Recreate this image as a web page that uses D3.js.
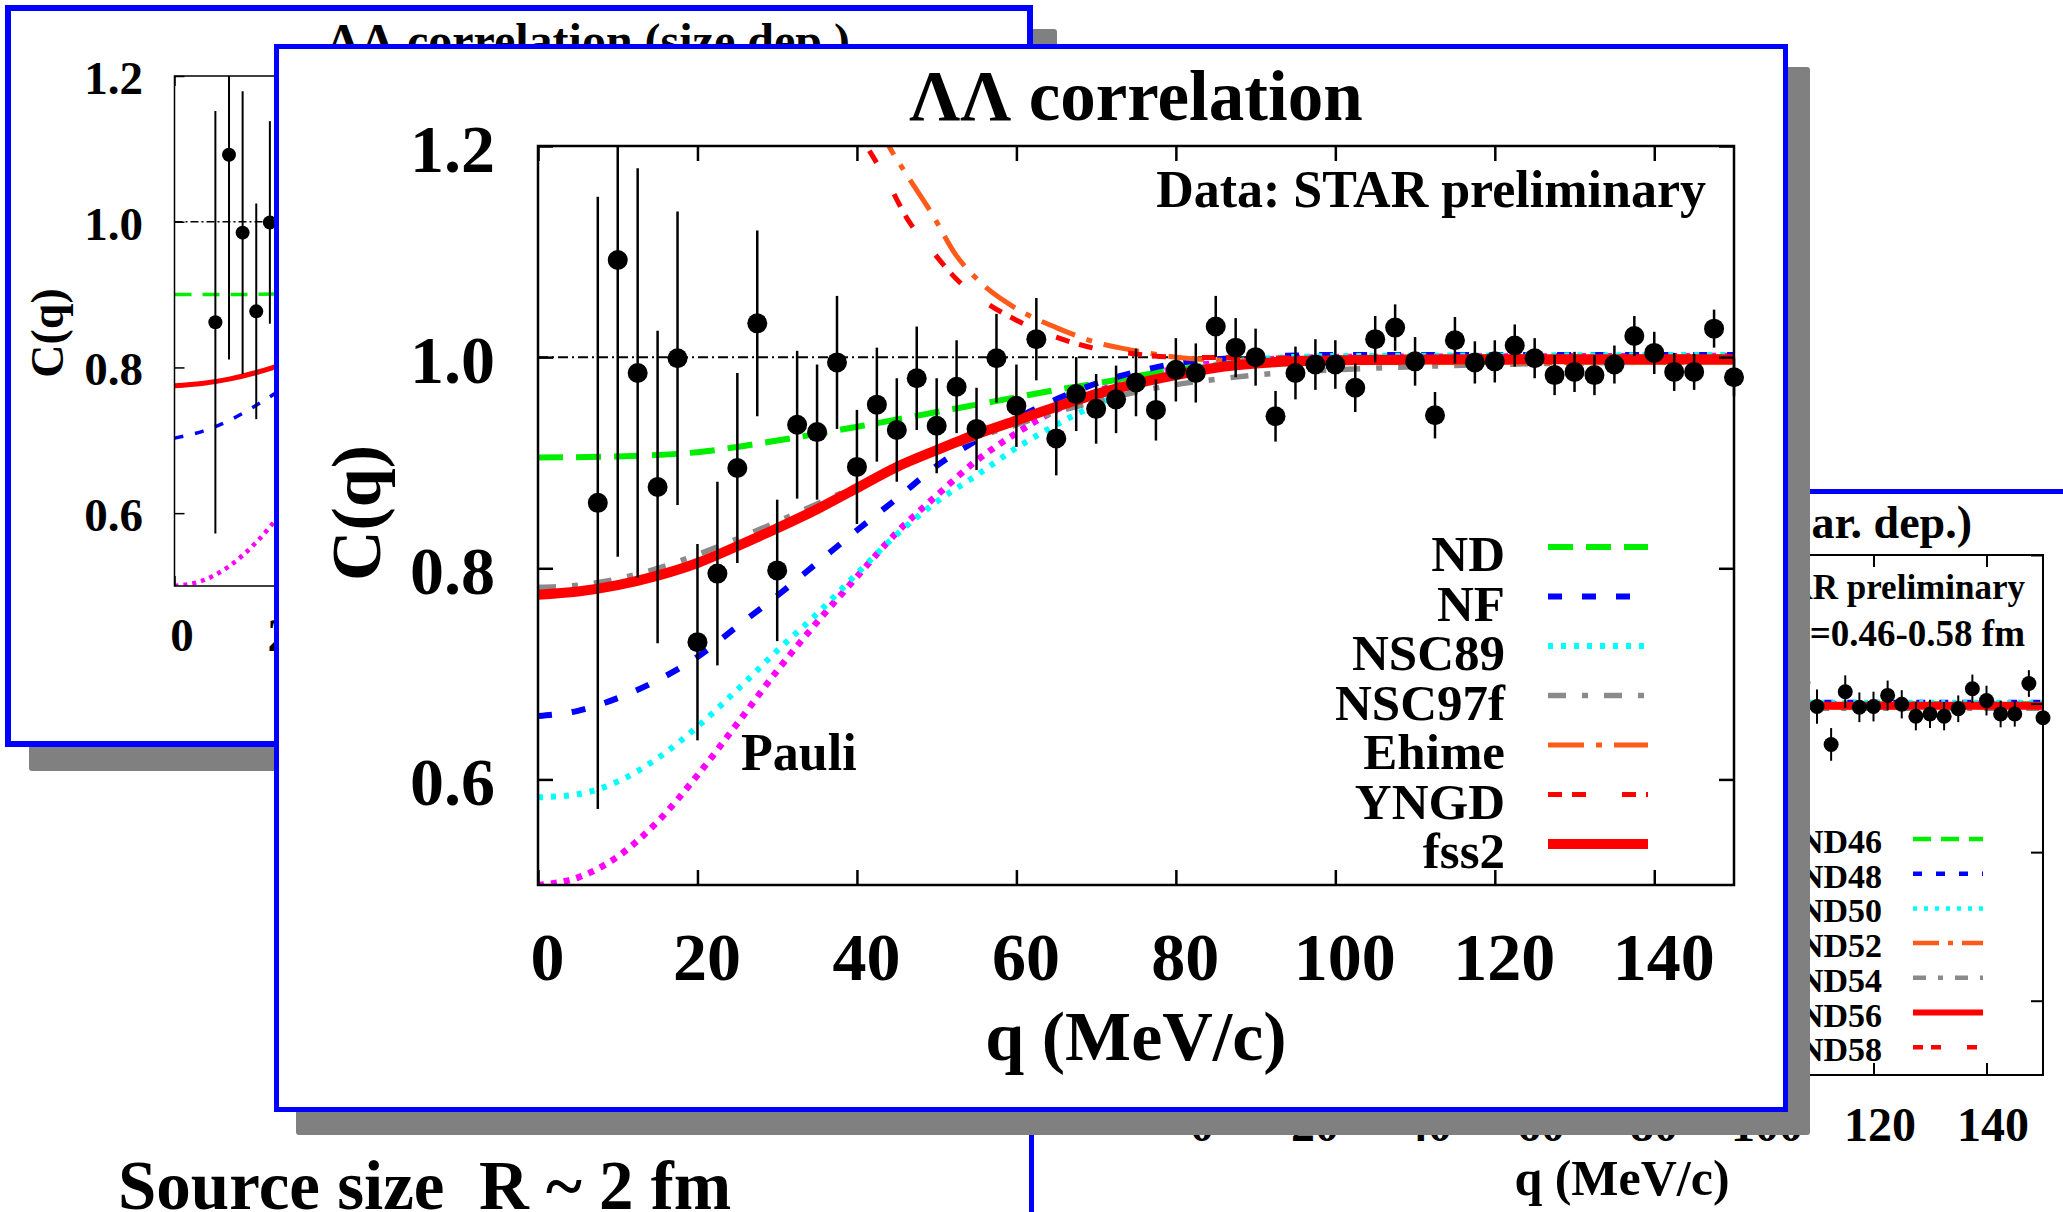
<!DOCTYPE html>
<html>
<head>
<meta charset="utf-8">
<script src="https://cdn.jsdelivr.net/npm/d3@7"></script>
<style>
  html, body { margin: 0; padding: 0; background: #fff; }
  svg text { font-family: "Liberation Serif", "Times New Roman", serif; font-weight: bold; fill: #000; }
</style>
</head>
<body>
<svg id="fig" width="2063" height="1212"></svg>
<script>
// ---------------- STAR preliminary ΛΛ correlation data ----------------
const qData = [7.5,10,12.5,15,17.5,20,22.5,25,27.5,30,32.5,35,37.5,40,42.5,45,47.5,50,52.5,55,
  57.5,60,62.5,65,67.5,70,72.5,75,77.5,80,82.5,85,87.5,90,92.5,95,97.5,100,102.5,105,
  107.5,110,112.5,115,117.5,120,122.5,125,127.5,130,132.5,135,137.5,140,142.5,145,147.5,150];
const cData = [0.862,1.092,0.985,0.877,0.999,0.730,0.795,0.895,1.032,0.798,
  0.936,0.929,0.995,0.896,0.955,0.931,0.980,0.935,0.972,0.932,
  0.999,0.954,1.017,0.923,0.965,0.951,0.960,0.976,0.950,0.988,
  0.985,1.029,1.009,1.000,0.944,0.985,0.993,0.993,0.971,1.017,
  1.028,0.996,0.945,1.016,0.995,0.996,1.011,0.999,0.983,0.986,
  0.983,0.993,1.020,1.004,0.986,0.986,1.027,0.981];
const cErr = [0.290,0.281,0.194,0.148,0.139,0.093,0.087,0.090,0.088,0.067,
  0.070,0.064,0.063,0.054,0.054,0.049,0.049,0.045,0.044,0.039,
  0.042,0.039,0.039,0.035,0.035,0.033,0.032,0.032,0.029,0.030,
  0.028,0.029,0.028,0.027,0.024,0.025,0.024,0.023,0.023,0.022,
  0.022,0.023,0.022,0.022,0.020,0.020,0.020,0.019,0.019,0.019,
  0.019,0.018,0.019,0.020,0.018,0.017,0.018,0.018];

// ---------------- model curves [q (MeV/c), C(q)] ----------------
const curveND = [[0,0.905],[10,0.906],[20,0.910],[30,0.921],[40,0.934],[50,0.948],[55,0.955],[60,0.962],
  [65,0.969],[70,0.975],[75,0.982],[80,0.988],[90,0.996],[100,0.999],[120,1.000],[150,1.000]];
const curveNF = [[0,0.660],[5,0.665],[10,0.677],[15,0.694],[20,0.716],[25,0.745],[30,0.774],[35,0.805],
  [40,0.836],[45,0.866],[50,0.897],[55,0.921],[60,0.942],[65,0.960],[70,0.975],[75,0.986],[80,0.994],
  [90,1.000],[100,1.002],[150,1.002]];
const curveNSC89 = [[0,0.583],[5,0.586],[10,0.598],[15,0.620],[20,0.650],[25,0.685],[30,0.722],[35,0.757],
  [40,0.795],[45,0.832],[50,0.863],[55,0.888],[60,0.914],[65,0.936],[70,0.955],[75,0.971],[80,0.984],
  [85,0.993],[90,0.998],[100,1.001],[150,1.002]];
const curveNSC97f = [[0,0.782],[5,0.784],[10,0.790],[15,0.800],[20,0.813],[25,0.828],[30,0.844],[35,0.861],
  [40,0.878],[45,0.895],[50,0.910],[55,0.924],[60,0.936],[65,0.948],[70,0.958],[75,0.967],[80,0.974],
  [85,0.979],[90,0.983],[95,0.986],[100,0.988],[110,0.991],[120,0.993],[150,0.996]];
const curveEhime = [[42.5,1.222],[44,1.200],[46.4,1.171],[49.4,1.136],[52.3,1.098],[55.6,1.070],[60,1.046],
  [65,1.028],[70,1.014],[75,1.006],[80,1.000],[90,0.996],[100,0.995],[150,0.995]];
const curveYNGD = [[40,1.215],[41.2,1.200],[43.5,1.171],[46.4,1.130],[49.4,1.101],[52.6,1.073],[55,1.058],
  [60,1.035],[65,1.019],[70,1.008],[75,1.003],[80,1.000],[100,0.999],[150,0.999]];
const curveFss2 = [[0,0.775],[5,0.778],[10,0.784],[15,0.793],[20,0.805],[25,0.821],[30,0.838],[35,0.856],
  [40,0.876],[45,0.896],[50,0.912],[55,0.927],[60,0.940],[65,0.953],[70,0.965],[75,0.975],[80,0.983],
  [85,0.990],[90,0.994],[95,0.996],[100,0.997],[120,0.998],[150,0.998]];
const curvePauli = [[0,0.500],[5,0.507],[10,0.527],[15,0.560],[20,0.604],[25,0.653],[30,0.703],[35,0.749],
  [40,0.792],[45,0.834],[50,0.869],[55,0.902],[60,0.928],[65,0.950],[70,0.967],[75,0.980],[80,0.989],
  [90,0.997],[100,1.000],[150,1.001]];

// source-size panel curves (low-q part)
const sizeDepGreen = [[0,0.900],[10,0.900],[20,0.901]];
const sizeDepBlue = [[0,0.703],[5,0.712],[10,0.727],[15,0.748],[20,0.772]];

// interaction-parameter panel curves (high-q part)
const curveND46 = [[95,1.000],[120,1.000],[150,1.000]];
const curveND48 = [[95,1.002],[120,1.002],[150,1.002]];
const curveND50 = [[95,1.002],[120,1.002],[150,1.002]];
const curveND52 = [[95,0.995],[120,0.995],[150,0.995]];
const curveND54 = [[95,0.993],[120,0.993],[150,0.993]];
const curveND56 = [[95,0.997],[120,0.997],[150,0.997]];
const curveND58 = [[95,0.998],[120,0.998],[150,0.998]];

const xTicks = [0,20,40,60,80,100,120,140];
const yTicks = [0.6,0.8,1.0,1.2];
const modelNames = ["ND","NF","NSC89","NSC97f","Ehime","YNGD","fss2"];
const ndNames = ["ND46","ND48","ND50","ND52","ND54","ND56","ND58"];

// ---------------- helpers ----------------
const svg = d3.select("#fig");
svg.append("rect").attr("width",2063).attr("height",1212).attr("fill","#fff");
const defs = svg.append("defs");

function makeClip(id, x0, y0, x1, y1) {
  defs.append("clipPath").attr("id", id).append("rect")
    .attr("x", x0).attr("y", y0).attr("width", x1 - x0).attr("height", y1 - y0);
  return `url(#${id})`;
}
function label(g, x, y, str, size, anchor) {
  return g.append("text").attr("x", x).attr("y", y)
    .attr("text-anchor", anchor || "start")
    .style("font-size", size + "px").style("white-space", "pre").text(str);
}
function drawCurve(g, xs, ys, data, st, clipUrl) {
  const line = d3.line().x(d => xs(d[0])).y(d => ys(d[1])).curve(d3.curveMonotoneX);
  g.append("path").datum(data).attr("d", line)
    .attr("fill", "none").attr("stroke", st.color).attr("stroke-width", st.width)
    .attr("stroke-dasharray", st.dash || null).attr("clip-path", clipUrl || null);
}
function drawData(g, xs, ys, r, sw, barClip) {
  const pts = qData.map((q, i) => ({ q: q, c: cData[i], e: cErr[i] }));
  g.append("g").attr("clip-path", barClip).selectAll("line").data(pts).join("line")
    .attr("x1", d => xs(d.q)).attr("x2", d => xs(d.q))
    .attr("y1", d => ys(d.c - d.e)).attr("y2", d => ys(d.c + d.e))
    .attr("stroke", "#000").attr("stroke-width", sw);
  g.append("g").selectAll("circle").data(pts).join("circle")
    .attr("cx", d => xs(d.q)).attr("cy", d => ys(d.c)).attr("r", r).attr("fill", "#000");
}
function styleAxis(g, sw, fs) {
  g.select(".domain").remove();
  g.selectAll(".tick line").attr("stroke", "#000").attr("stroke-width", sw);
  g.selectAll(".tick text").style("font-size", fs + "px");
}
function drawAxes(g, xs, ys, o) {
  const [x0, x1] = xs.range(), [y0, y1] = ys.range();
  const bx = g.append("g").attr("transform", `translate(0,${y0})`)
    .call(d3.axisBottom(xs).tickValues(xTicks).tickSize(-o.tick).tickSizeOuter(0).tickFormat(d3.format("d")));
  styleAxis(bx, o.sw, o.fs);
  bx.selectAll(".tick text").attr("y", o.xLabelDy).attr("dy", null).attr("dx", o.xLabelDx);
  const tx = g.append("g").attr("transform", `translate(0,${y1})`)
    .call(d3.axisTop(xs).tickValues(xTicks).tickSize(-o.tick).tickSizeOuter(0).tickFormat(() => ""));
  styleAxis(tx, o.sw, o.fs);
  const ly = g.append("g").attr("transform", `translate(${x0},0)`)
    .call(d3.axisLeft(ys).tickValues(yTicks).tickSize(-o.tick).tickSizeOuter(0)
      .tickFormat(o.yLabels ? d3.format(".1f") : () => ""));
  styleAxis(ly, o.sw, o.fs);
  ly.selectAll(".tick text").attr("x", -o.yLabelDx).attr("dy", "0.37em");
  const ry = g.append("g").attr("transform", `translate(${x1},0)`)
    .call(d3.axisRight(ys).tickValues(yTicks).tickSize(-o.tick).tickSizeOuter(0).tickFormat(() => ""));
  styleAxis(ry, o.sw, o.fs);
  g.append("rect").attr("x", x0).attr("y", y1).attr("width", x1 - x0).attr("height", y0 - y1)
    .attr("fill", "none").attr("stroke", "#000").attr("stroke-width", o.sw);
}
function unityLine(g, xs, ys, sw, dash) {
  g.append("line").attr("x1", xs(0)).attr("x2", xs(150)).attr("y1", ys(1)).attr("y2", ys(1))
    .attr("stroke", "#000").attr("stroke-width", sw).attr("stroke-dasharray", dash);
}
function slide(x0, y0, x1, y1, bw, sx, sy) {
  const g = svg.append("g");
  if (sx) g.append("rect").attr("x", x0 + sx).attr("y", y0 + sy)
    .attr("width", x1 - x0).attr("height", y1 - y0).attr("rx", 3).attr("fill", "#808080");
  g.append("rect").attr("x", x0 + bw / 2).attr("y", y0 + bw / 2)
    .attr("width", x1 - x0 - bw).attr("height", y1 - y0 - bw)
    .attr("fill", "#fff").attr("stroke", "#0000ff").attr("stroke-width", bw);
  return g;
}

// ---------------- source-size panel (back, left) ----------------
{
  const g = slide(5, 5, 1033, 747, 6, 24, 24);
  const xs = d3.scaleLinear([0, 150], [174.5, 992]);
  const ys = d3.scaleLinear([0.5, 1.2], [586, 76]);
  const clipC = makeClip("clipL", 174.5, 76, 992, 586);
  label(g, 588, 57, "ΛΛ correlation (size dep.)", 48, "middle");
  unityLine(g, xs, ys, 1.5, "8,3,2,3");
  drawCurve(g, xs, ys, curvePauli, { color: "#ff00ff", width: 4.5, dash: "4,5" }, clipC);
  drawCurve(g, xs, ys, sizeDepBlue, { color: "#0000ff", width: 3.5, dash: "9,12" }, clipC);
  drawCurve(g, xs, ys, sizeDepGreen, { color: "#00ee00", width: 3.5, dash: "17,11" }, clipC);
  drawCurve(g, xs, ys, curveFss2, { color: "#ff0000", width: 5, dash: null }, clipC);
  drawData(g, xs, ys, 7, 2, makeClip("clipLb", 150, 76, 1010, 586));
  drawAxes(g, xs, ys, { tick: 10, sw: 1.5, fs: 47, xLabelDy: 65, xLabelDx: 7, yLabelDx: 31.5, yLabels: true });
  g.append("text").attr("transform", "translate(63,333) rotate(-90)")
    .attr("text-anchor", "middle").style("font-size", "46px").text("C(q)");
}

// ---------------- interaction-parameter panel (back, right) ----------------
{
  const g = slide(1029, 489, 2200, 1400, 5, 0, 0);
  const xs = d3.scaleLinear([0, 150], [1195.5, 2043]);
  const ys = d3.scaleLinear([0.5, 1.2], [1075, 555]);
  const clipC = makeClip("clipR", 1195.5, 555, 2043, 1075);
  label(g, 1972, 538, "ΛΛ correlation (scatt. par. dep.)", 46, "end");
  unityLine(g, xs, ys, 1.5, "8,3,2,3");
  const rs = {
    ND46: { data: curveND46, color: "#00ee00", width: 4.5, dash: "18,10" },
    ND48: { data: curveND48, color: "#0000ff", width: 4.5, dash: "9,14" },
    ND50: { data: curveND50, color: "#00ffff", width: 4.5, dash: "4,7" },
    ND52: { data: curveND52, color: "#ff5a1a", width: 4.5, dash: "26,9,5,9" },
    ND54: { data: curveND54, color: "#8a8a8a", width: 4.5, dash: "13,12,5,12" },
    ND56: { data: curveND56, color: "#ff0000", width: 8, dash: null },
    ND58: { data: curveND58, color: "#ff0000", width: 4.5, dash: "10,8,10,26" }
  };
  drawCurve(g, xs, ys, curvePauli, { color: "#ff00ff", width: 4.5, dash: "4,7" }, clipC);
  ndNames.forEach(n => drawCurve(g, xs, ys, rs[n].data, rs[n], clipC));
  drawData(g, xs, ys, 7.5, 2, makeClip("clipRb", 1180, 555, 2060, 1075));
  drawAxes(g, xs, ys, { tick: 12, sw: 2, fs: 48, xLabelDy: 66, xLabelDx: 6, yLabelDx: 30, yLabels: false });
  label(g, 2025, 599, "Data: STAR preliminary", 35, "end");
  label(g, 2025, 646, "rc=0.46-0.58 fm", 37, "end");
  ndNames.forEach((n, i) => {
    const by = 853 + i * 34.7;
    label(g, 1882, by, n, 34, "end");
    g.append("line").attr("x1", 1913).attr("x2", 1983).attr("y1", by - 14).attr("y2", by - 14)
      .attr("stroke", rs[n].color).attr("stroke-width", Math.min(rs[n].width, 6))
      .attr("stroke-dasharray", rs[n].dash);
  });
  label(g, 1622, 1195, "q (MeV/c)", 50, "middle");
}

// ---------------- ΛΛ correlation panel (front) ----------------
{
  const g = slide(274, 44, 1788, 1112, 5, 22, 23);
  const xs = d3.scaleLinear([0, 150], [538, 1734]);
  const ys = d3.scaleLinear([0.5, 1.2], [885, 146]);
  const clipC = makeClip("clipM", 538, 146, 1734, 885);
  const ms = {
    ND:     { data: curveND,     color: "#00ee00", width: 6,   dash: "25,13" },
    NF:     { data: curveNF,     color: "#0000ff", width: 6,   dash: "14,20" },
    NSC89:  { data: curveNSC89,  color: "#00ffff", width: 6,   dash: "5,8" },
    NSC97f: { data: curveNSC97f, color: "#8a8a8a", width: 5.5, dash: "18,16,6,16" },
    Ehime:  { data: curveEhime,  color: "#ff5a1a", width: 5,   dash: "36,12,6,12" },
    YNGD:   { data: curveYNGD,   color: "#ff0000", width: 5,   dash: "14,10,14,36" },
    fss2:   { data: curveFss2,   color: "#ff0000", width: 10,  dash: null }
  };
  unityLine(g, xs, ys, 2, "10,4,2,4");
  drawCurve(g, xs, ys, curvePauli, { color: "#ff00ff", width: 6.5, dash: "6,7" }, clipC);
  modelNames.forEach(n => drawCurve(g, xs, ys, ms[n].data, ms[n], clipC));
  drawData(g, xs, ys, 10, 2.5, makeClip("clipMb", 515, 146, 1760, 885));
  drawAxes(g, xs, ys, { tick: 15, sw: 2.5, fs: 68, xLabelDy: 95, xLabelDx: 9, yLabelDx: 43, yLabels: true });

  label(g, 1136, 120, "ΛΛ correlation", 71, "middle");
  label(g, 1706, 207, "Data: STAR preliminary", 52, "end");
  label(g, 741, 770, "Pauli", 52, "start");
  label(g, 1136, 1060, "q (MeV/c)", 70, "middle");
  g.append("text").attr("transform", "translate(380,513) rotate(-90)")
    .attr("text-anchor", "middle").style("font-size", "70px").text("C(q)");

  modelNames.forEach((n, i) => {
    const by = 571 + i * 49.5;
    label(g, 1505, by, n, 51, "end");
    g.append("line").attr("x1", 1548).attr("x2", 1648).attr("y1", by - 24).attr("y2", by - 24)
      .attr("stroke", ms[n].color).attr("stroke-width", ms[n].width)
      .attr("stroke-dasharray", ms[n].dash);
  });
}

// ---------------- caption ----------------
label(svg, 118, 1209, "Source size  R ~ 2 fm", 69, "start");
</script>
</body>
</html>
